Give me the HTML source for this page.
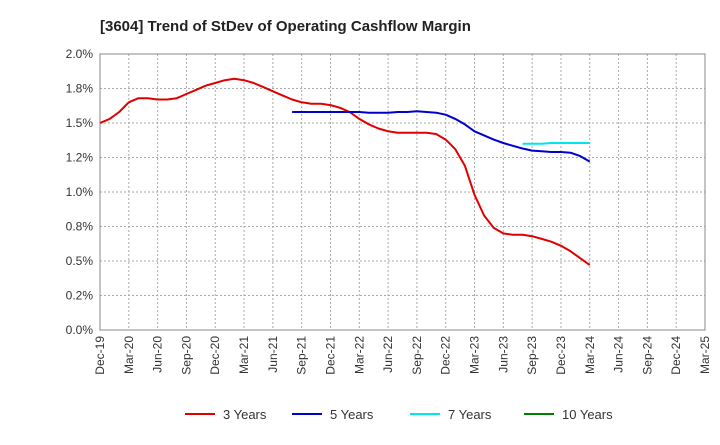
<!DOCTYPE html>
<html><head><meta charset="utf-8"><style>
body{margin:0;background:#fff;font-family:"Liberation Sans",sans-serif}
</style></head><body>
<svg id="c" width="720" height="440" xmlns="http://www.w3.org/2000/svg">
<text x="100" y="31" font-size="15" font-weight="bold" fill="#222">[3604]  Trend of StDev of Operating Cashflow Margin</text>
<g id="grid"></g><g id="axes"></g><g id="series"></g><g id="legend"></g>
</svg>
<script>
const xLabels=["Dec-19","Mar-20","Jun-20","Sep-20","Dec-20","Mar-21","Jun-21","Sep-21","Dec-21","Mar-22","Jun-22","Sep-22","Dec-22","Mar-23","Jun-23","Sep-23","Dec-23","Mar-24","Jun-24","Sep-24","Dec-24","Mar-25"];
const yTicks=[0,0.25,0.5,0.75,1.0,1.25,1.5,1.75,2.0];
const yTickLabels=["0.0%","0.2%","0.5%","0.8%","1.0%","1.2%","1.5%","1.8%","2.0%"];
const s3Start=0;
const s3=[1.50,1.53,1.58,1.65,1.68,1.68,1.67,1.67,1.68,1.71,1.74,1.77,1.79,1.81,1.82,1.81,1.79,1.76,1.73,1.70,1.67,1.65,1.64,1.64,1.63,1.61,1.58,1.53,1.49,1.46,1.44,1.43,1.43,1.43,1.43,1.42,1.38,1.31,1.19,0.98,0.83,0.74,0.70,0.69,0.69,0.68,0.66,0.64,0.61,0.57,0.52,0.47];
const s5Start=20;
const s5=[1.58,1.58,1.58,1.58,1.58,1.58,1.58,1.58,1.575,1.575,1.575,1.58,1.58,1.585,1.58,1.575,1.56,1.53,1.49,1.44,1.41,1.38,1.355,1.335,1.315,1.30,1.295,1.29,1.29,1.285,1.26,1.22];
const s7Start=44;
const s7=[1.35,1.35,1.35,1.355,1.355,1.355,1.355,1.355];
const seriesNames=["3 Years","5 Years","7 Years","10 Years"];
const colors=["#e00000","#0000cc","#00e5ee","#008000"];
const X0=100,X1=705,Y0=330,Y1=54;
const xm=m=>X0+m*(X1-X0)/63;
const y=v=>Y0-v*(Y0-Y1)/2.0;
const NS="http://www.w3.org/2000/svg";
function mk(p,t,a){const e=document.createElementNS(NS,t);for(const k in a)e.setAttribute(k,a[k]);p.appendChild(e);return e;}
const grid=document.getElementById('grid'),axes=document.getElementById('axes'),ser=document.getElementById('series'),leg=document.getElementById('legend');
yTicks.forEach((v,i)=>{
 const l=mk(grid,'line',{x1:X0,x2:X1,y1:y(v),y2:y(v),stroke:'#aaa','stroke-dasharray':'2,2'});
 
 
 const t=mk(axes,'text',{x:X0-7,y:y(v)+4,'text-anchor':'end','font-size':12,fill:'#333'});
 t.textContent=yTickLabels[i];
 
 
});
xLabels.forEach((s,i)=>{
 const x=xm(i*3);
 const l=mk(grid,'line',{x1:x,x2:x,y1:Y1,y2:Y0,stroke:'#aaa','stroke-dasharray':'2,2'});
 
 
 const t=mk(axes,'text',{x:0,y:0,'text-anchor':'end','font-size':12,fill:'#333',transform:`translate(${x+4},${Y0+6}) rotate(-90)`});
 t.textContent=s;
 
 
});
const fr=mk(axes,'rect',{x:X0,y:Y1,width:X1-X0,height:Y0-Y1,fill:'none',stroke:'#888'});


[[s3,s3Start,0],[s5,s5Start,1],[s7,s7Start,2]].forEach(([d,st,ci])=>{
 const pts=d.map((v,i)=>xm(st+i).toFixed(1)+','+y(v).toFixed(1)).join(' ');
 const p=mk(ser,'polyline',{points:pts,fill:'none',stroke:colors[ci],'stroke-width':2,'stroke-linejoin':'round'});
 
 
});
const lx=[185,292,410,524];
seriesNames.forEach((n,i)=>{
 const g=mk(leg,'g',{});
 
 
 mk(g,'line',{x1:lx[i],x2:lx[i]+30,y1:414,y2:414,stroke:colors[i],'stroke-width':2});
 const t=mk(g,'text',{x:lx[i]+38,y:419,'font-size':13,fill:'#333'});
 t.textContent=n;
});
</script>
</body></html>
